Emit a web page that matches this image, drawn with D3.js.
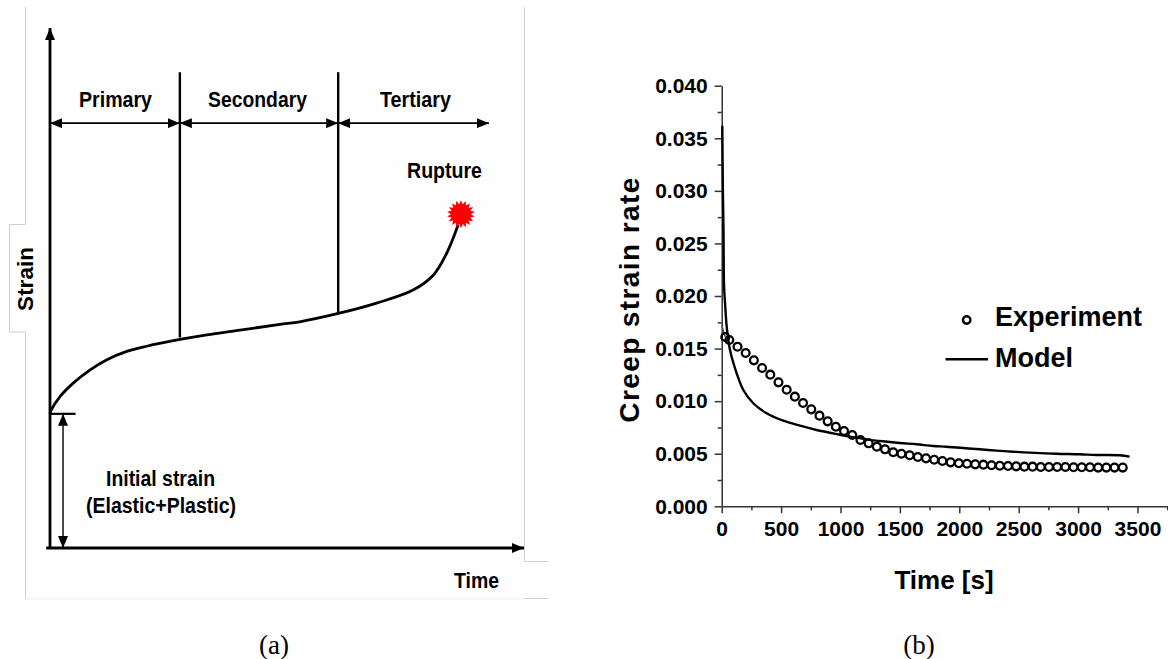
<!DOCTYPE html>
<html><head><meta charset="utf-8">
<script src="https://cdn.jsdelivr.net/npm/d3@7"></script>
<style>
html,body{margin:0;padding:0;background:#fff}
svg{display:block}
text{fill:#000}
.sans{font-family:"Liberation Sans",Arial,sans-serif;font-weight:700}
.serif{font-family:"Liberation Serif",serif}
</style></head><body>
<script>
// ---------- panel (a): schematic creep curve (arbitrary units, 0-100)
const curveTime   = [0,.2,2.1,4.9,8.4,12,16.2,20.4,27.4,33.1,40.1,48.5,52.7,60.8,68.9,76.6,80.9,83.7,86.1];
const curveStrain = [25.8,26.4,29.1,31.7,34.2,36.2,37.8,38.8,40.1,41,41.9,43,43.5,45.1,47.1,49.6,52.5,56.7,62.1];
const stageNames  = ["Primary","Secondary","Tertiary"];
const stageBounds = [0,27.4,60.8,92.6];
const dividerEnds = [40.5,45.1];
const stageTop = 91.5, stageArrow = 81.7, initialStrain = 25.8, rupture = [86.7,64.2];

// ---------- panel (b): creep strain rate vs time
const expTime = [30,64,133,202,271,340,409,478,547,616,685,754,823,892,961,1030,1099,1168,1237,1306,1375,1444,1513,1582,1651,1720,1789,1858,1927,1996,2065,2134,2203,2272,2341,2410,2479,2548,2617,2686,2755,2824,2893,2962,3031,3100,3169,3238,3307,3376];
const expRate = [.0161,.01582,.01518,.01458,.01388,.01315,.01252,.01179,.01109,.01043,.00982,.00922,.00862,.00808,.00757,.00716,.00678,.00631,.00599,.00567,.00542,.00514,.005,.00485,.00469,.00456,.00443,.00431,.00418,.00409,.00405,.00399,.00396,.0039,.00386,.00383,.0038,.00377,.00377,.00374,.00374,.00374,.00374,.00371,.00371,.00371,.00368,.00368,.00368,.00368];
const earlyTime = [0,12,30];
const earlyRate = [.0172,.0168,.0161];
const modelTime = [5,10,15,20,30,42,70,126,182,266,378,518,659,799,939,1079,1219,1359,1500,1640,1780,1892,2032,2172,2313,2453,2593,2817,3013,3154,3350,3434];
const modelRate = [.0362,.030,.0263,.0209,.019,.0171,.01486,.01265,.01106,.0098,.00885,.00814,.00767,.00726,.00694,.00662,.00637,.00618,.00602,.0059,.00573,.00567,.00554,.00542,.00529,.00519,.0051,.005,.00495,.00488,.00485,.00472];
const rateTicks = [0,.005,.01,.015,.02,.025,.03,.035,.04];
const rateMinor = [.0025,.0075,.0125,.0175,.0225,.0275,.0325,.0375];
const timeTicks = [0,500,1000,1500,2000,2500,3000,3500];
const timeMinor = [250,750,1250,1750,2250,2750,3250,3750];

const svg = d3.select("body").append("svg").attr("width",1168).attr("height",659);
const defs = svg.append("defs");
defs.append("marker").attr("id","ah").attr("viewBox","0 0 12 10").attr("refX",12).attr("refY",5)
  .attr("markerWidth",12).attr("markerHeight",10).attr("markerUnits","userSpaceOnUse").attr("orient","auto-start-reverse")
  .append("path").attr("d","M0,0L12,5L0,10Z").attr("fill","#000");

// ---- panel (a)
const xA = d3.scaleLinear([0,100],[50,524]);
const yA = d3.scaleLinear([0,100],[548,28]);
const a = svg.append("g");
// page-like outline around the pasted diagram
a.append("path").attr("fill","#fefefe").attr("stroke","none")
  .attr("d",d3.line()([[25.5,7],[25.5,224.5],[9.5,224.5],[9.5,332],[25.5,332],[25.5,599],[524,599],[524,7]]));
const outline=(pts,c)=>a.append("path").attr("fill","none").attr("stroke",c).attr("stroke-width",1).attr("d",d3.line()(pts));
outline([[25.5,7],[25.5,224.5],[9.5,224.5],[9.5,332],[25.5,332],[25.5,599]],"#d0d0d0");
outline([[25.5,599],[524,599]],"#eeeeee");
outline([[524.5,7],[524.5,561.5],[548,561.5]],"#d0d0d0");
outline([[524,598.5],[548,598.5]],"#d0d0d0");

const seg=(x1,y1,x2,y2,w,both,end)=>{
  const l=a.append("line").attr("x1",xA(x1)).attr("y1",yA(y1)).attr("x2",xA(x2)).attr("y2",yA(y2))
   .attr("stroke","#000").attr("stroke-width",w);
  if(end||both) l.attr("marker-end","url(#ah)");
  if(both) l.attr("marker-start","url(#ah)");
  return l;
};
seg(0,0,0,100,2.8,false,true);
seg(-.8,0,100,0,2.8,false,true);
stageBounds.slice(1,3).forEach((b,i)=>seg(b,stageTop,b,dividerEnds[i],2.4));
const stageLabelX=[[79,152],[208,307],[380,451]];
const narrow=(s,x0,x1,y,size)=>a.append("text").attr("class","sans").attr("font-size",size).attr("x",x0).attr("y",y)
  .attr("textLength",x1-x0).attr("lengthAdjust","spacingAndGlyphs").text(s);
stageNames.forEach((n,i)=>{
  seg(stageBounds[i],stageArrow,stageBounds[i+1],stageArrow,1.8,true);
  narrow(n,stageLabelX[i][0],stageLabelX[i][1],106.5,22);
});
seg(0,initialStrain,5.4,initialStrain,2.2);
seg(2.75,initialStrain,2.75,0,1.4,true);
const lineA=d3.line().x(i=>xA(curveTime[i])).y(i=>yA(curveStrain[i])).curve(d3.curveCatmullRom.alpha(0.5));
a.append("path").datum(d3.range(curveTime.length)).attr("d",lineA).attr("fill","none").attr("stroke","#000").attr("stroke-width",2.8);
const spikes=d3.range(36).map(i=>[i*Math.PI/18,i%2?10:14]);
a.append("path").attr("transform",`translate(${xA(rupture[0])},${yA(rupture[1])})`)
  .attr("d",d3.lineRadial().curve(d3.curveLinearClosed)(spikes)).attr("fill","#f00");
narrow("Rupture",407,482,178.3,22);
narrow("Initial strain",106,215,485.7,22);
narrow("(Elastic+Plastic)",86,236,512.5,22);
narrow("Time",454,499,587.7,22);
a.append("text").attr("class","sans").attr("font-size",22.5).attr("text-anchor","middle")
  .attr("transform","translate(33.3,279) rotate(-90)").text("Strain");

// ---- panel (b)
const xB = d3.scaleLinear([0,3757],[721.7,1168]);
const yB = d3.scaleLinear([0,.04],[506.3,85.7]);
const b = svg.append("g");
const axY = b.append("g").attr("transform",`translate(${xB(0)},0)`)
  .call(d3.axisLeft(yB).tickValues(rateTicks).tickFormat(d3.format(".3f")).tickSize(7).tickSizeOuter(0));
const axX = b.append("g").attr("transform",`translate(0,${yB(0)})`)
  .call(d3.axisBottom(xB).tickValues(timeTicks).tickFormat(d3.format("d")).tickSize(7).tickSizeOuter(0));
b.append("g").attr("transform",`translate(${xB(0)},0)`)
  .call(d3.axisLeft(yB).tickValues(rateMinor).tickFormat("").tickSize(4).tickSizeOuter(0)).select(".domain").remove();
b.append("g").attr("transform",`translate(0,${yB(0)})`)
  .call(d3.axisBottom(xB).tickValues(timeMinor).tickFormat("").tickSize(4).tickSizeOuter(0)).select(".domain").remove();
b.selectAll(".domain,.tick line").attr("stroke","#333").attr("stroke-width",1.5);
[axY,axX].forEach(g=>g.selectAll("text").attr("class","sans").attr("font-size",21).attr("fill","#000"));
axY.selectAll("text").attr("x",-14);
axX.selectAll("text").attr("y",15);

const lineB=d3.line().x(i=>xB(modelTime[i])).y(i=>yB(modelRate[i])).curve(d3.curveCatmullRom.alpha(0.5));
b.append("path").datum(d3.range(modelTime.length)).attr("d",lineB).attr("fill","none").attr("stroke","#000").attr("stroke-width",2.4);
const lineE=d3.line().x(i=>xB(earlyTime[i])).y(i=>yB(earlyRate[i]));
b.append("path").datum(d3.range(earlyTime.length)).attr("d",lineE).attr("fill","none").attr("stroke","#555").attr("stroke-width",1.5);
b.selectAll("circle.e").data(d3.range(expTime.length)).join("circle").attr("class","e")
  .attr("cx",i=>xB(expTime[i])).attr("cy",i=>yB(expRate[i])).attr("r",3.9)
  .attr("fill","none").attr("stroke","#000").attr("stroke-width",2.3);

b.append("circle").attr("cx",966.7).attr("cy",320).attr("r",3.7).attr("fill","none").attr("stroke","#000").attr("stroke-width",2.4);
b.append("line").attr("x1",945.5).attr("x2",988).attr("y1",359.3).attr("y2",359.3).attr("stroke","#000").attr("stroke-width",2.4);
b.append("text").attr("class","sans").attr("font-size",27).attr("x",995).attr("y",326).text("Experiment");
b.append("text").attr("class","sans").attr("font-size",27).attr("x",995).attr("y",367).text("Model");
b.append("text").attr("class","sans").attr("font-size",26).attr("text-anchor","middle").attr("x",944).attr("y",589).text("Time [s]");
b.append("text").attr("class","sans").attr("font-size",28).attr("letter-spacing",1.4).attr("text-anchor","middle")
  .attr("transform","translate(639,299.5) rotate(-90)").text("Creep strain rate");

// ---- captions
svg.append("text").attr("class","serif").attr("font-size",27).attr("text-anchor","middle").attr("x",274).attr("y",654).text("(a)");
svg.append("text").attr("class","serif").attr("font-size",27).attr("text-anchor","middle").attr("x",919).attr("y",654).text("(b)");
</script>
</body></html>
